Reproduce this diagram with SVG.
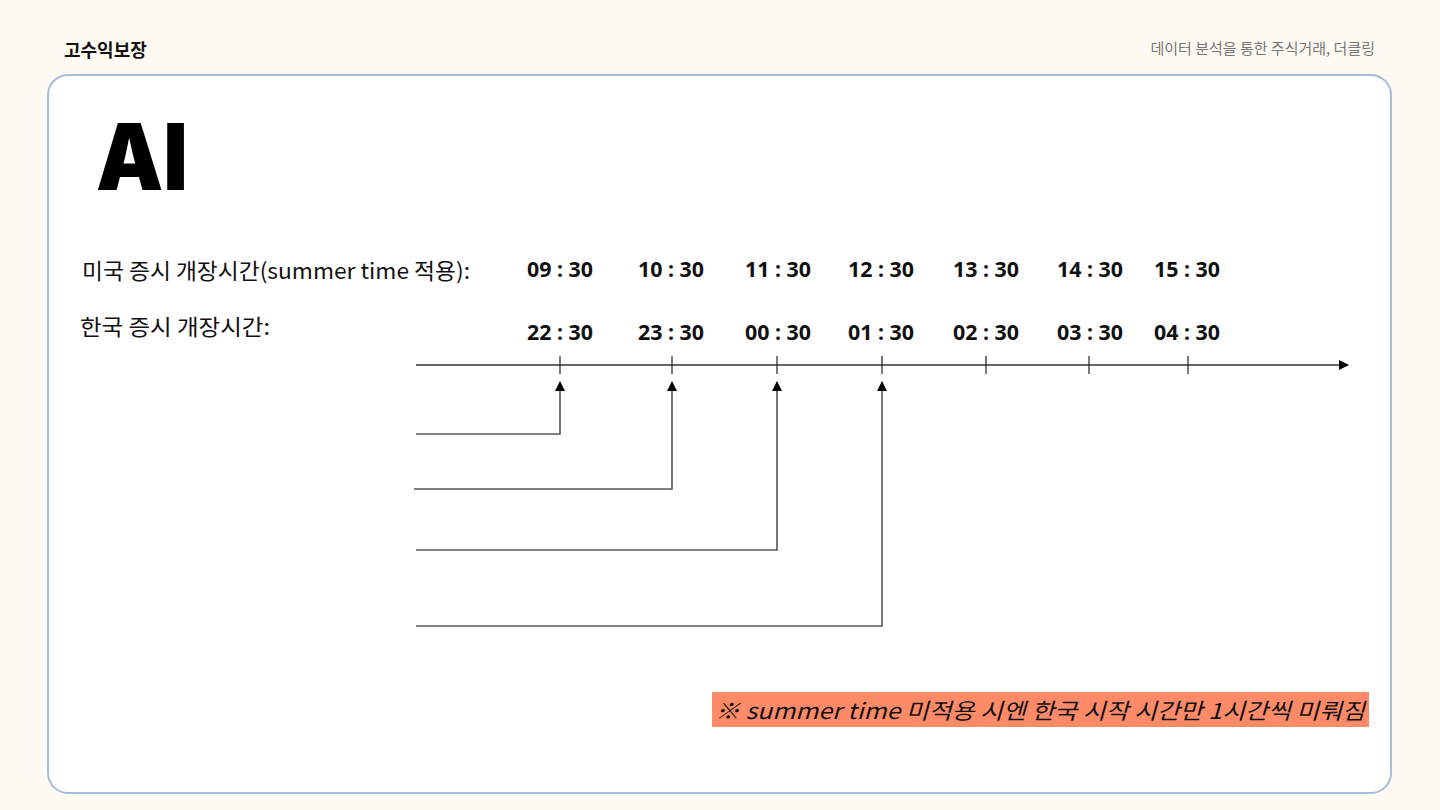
<svg xmlns="http://www.w3.org/2000/svg" width="1440" height="810" viewBox="0 0 1440 810">
  <style>
    .kr { font-family: "Noto Sans CJK KR", "Noto Sans", sans-serif; }
    .label { font-family: "Noto Sans CJK KR", "Noto Sans", sans-serif; font-size: 22px; fill: #111; }
    .time { font-family: "Noto Sans", "Noto Sans CJK KR", sans-serif; font-size: 21px; font-weight: 700; fill: #111; text-anchor: middle; }
    .tick { stroke: #222; stroke-width: 1.2; }
    .conn { fill: none; stroke: #555; stroke-width: 1.6; }
  </style>
  <defs>
    <marker id="arrowUp" viewBox="0 0 10 10" refX="9" refY="5" markerWidth="10" markerHeight="10" markerUnits="userSpaceOnUse" orient="auto">
      <path d="M0,0 L10,5 L0,10 z" fill="#000"/>
    </marker>
    <marker id="axisHead" viewBox="0 0 10 10" refX="9" refY="5" markerWidth="10" markerHeight="10" markerUnits="userSpaceOnUse" orient="auto">
      <path d="M0,0 L10,5 L0,10 z" fill="#000"/>
    </marker>
  </defs>

  <!-- page background -->
  <rect x="0" y="0" width="1440" height="810" fill="#fffbf3"/>

  <!-- header -->
  <text class="kr" x="64" y="57" font-size="18" font-weight="700" fill="#111">고수익보장</text>
  <text class="kr" x="1375" y="54" font-size="15" fill="#777" text-anchor="end">데이터 분석을 통한 주식거래, 더클링</text>

  <!-- card -->
  <rect x="48" y="75" width="1343" height="718" rx="20" ry="20" fill="#ffffff" stroke="#a6bcd9" stroke-width="2"/>

  <!-- title -->
  <text x="96" y="190" font-family="Inter, 'Noto Sans', sans-serif" font-size="92" font-weight="900" fill="#000" textLength="92" lengthAdjust="spacingAndGlyphs">AI</text>

  <!-- row labels -->
  <g id="label-us">
    <text class="label" x="82" y="279" textLength="388" lengthAdjust="spacingAndGlyphs">미국 증시 개장시간(summer time 적용):</text>
  </g>
  <g id="label-kr">
    <text class="label" x="80" y="335" textLength="190" lengthAdjust="spacingAndGlyphs">한국 증시 개장시간:</text>
  </g>

  <!-- US times -->
  <g id="times-us">
    <text class="time" x="560" y="277" textLength="66" lengthAdjust="spacingAndGlyphs">09 : 30</text>
    <text class="time" x="671" y="277" textLength="66" lengthAdjust="spacingAndGlyphs">10 : 30</text>
    <text class="time" x="778" y="277" textLength="66" lengthAdjust="spacingAndGlyphs">11 : 30</text>
    <text class="time" x="881" y="277" textLength="66" lengthAdjust="spacingAndGlyphs">12 : 30</text>
    <text class="time" x="986" y="277" textLength="66" lengthAdjust="spacingAndGlyphs">13 : 30</text>
    <text class="time" x="1090" y="277" textLength="66" lengthAdjust="spacingAndGlyphs">14 : 30</text>
    <text class="time" x="1187" y="277" textLength="66" lengthAdjust="spacingAndGlyphs">15 : 30</text>
  </g>

  <!-- Korean times -->
  <g id="times-kr">
    <text class="time" x="560" y="340" textLength="66" lengthAdjust="spacingAndGlyphs">22 : 30</text>
    <text class="time" x="671" y="340" textLength="66" lengthAdjust="spacingAndGlyphs">23 : 30</text>
    <text class="time" x="778" y="340" textLength="66" lengthAdjust="spacingAndGlyphs">00 : 30</text>
    <text class="time" x="881" y="340" textLength="66" lengthAdjust="spacingAndGlyphs">01 : 30</text>
    <text class="time" x="986" y="340" textLength="66" lengthAdjust="spacingAndGlyphs">02 : 30</text>
    <text class="time" x="1090" y="340" textLength="66" lengthAdjust="spacingAndGlyphs">03 : 30</text>
    <text class="time" x="1187" y="340" textLength="66" lengthAdjust="spacingAndGlyphs">04 : 30</text>
  </g>

  <!-- time axis -->
  <g id="axis">
    <line x1="416" y1="365" x2="1348" y2="365" stroke="#666" stroke-width="2" marker-end="url(#axisHead)"/>
    <line class="tick" x1="560" y1="356" x2="560" y2="374"/>
    <line class="tick" x1="672" y1="356" x2="672" y2="374"/>
    <line class="tick" x1="777" y1="356" x2="777" y2="374"/>
    <line class="tick" x1="882" y1="356" x2="882" y2="374"/>
    <line class="tick" x1="986" y1="356" x2="986" y2="374"/>
    <line class="tick" x1="1089" y1="356" x2="1089" y2="374"/>
    <line class="tick" x1="1188" y1="356" x2="1188" y2="374"/>
  </g>

  <!-- connectors -->
  <g id="connectors">
    <path class="conn" d="M416,434 H560 V382" marker-end="url(#arrowUp)"/>
    <path class="conn" d="M414,489 H672 V382" marker-end="url(#arrowUp)"/>
    <path class="conn" d="M416,550 H777 V382" marker-end="url(#arrowUp)"/>
    <path class="conn" d="M416,626 H882 V382" marker-end="url(#arrowUp)"/>
  </g>

  <!-- note -->
  <g id="note">
    <rect x="712" y="692" width="657" height="35" fill="#ff8a68"/>
    <text class="kr" x="715" y="719" font-size="22" font-style="italic" fill="#111" textLength="650" lengthAdjust="spacingAndGlyphs">※ summer time 미적용 시엔 한국 시작 시간만 1시간씩 미뤄짐</text>
  </g>
</svg>
